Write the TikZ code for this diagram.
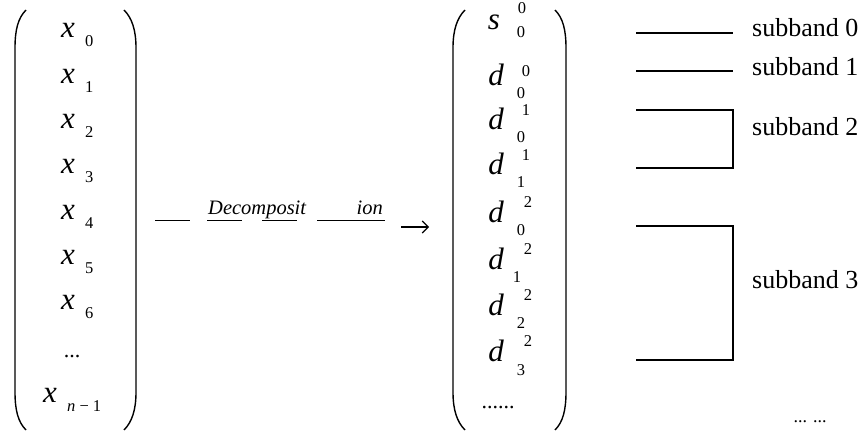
\documentclass[tikz,border=0pt]{standalone}
\usepackage{fontspec}
\usetikzlibrary{arrows.meta}
\setmainfont{Liberation Serif}
\begin{document}
\begin{tikzpicture}[x=1pt,y=-1pt,
  var/.style={font=\fontsize{31}{31}\selectfont\itshape, inner sep=0pt, anchor=base},
  idx/.style={font=\fontsize{16.5}{16.5}\selectfont, inner sep=0pt, anchor=base},
  band/.style={font=\fontsize{26}{26}\selectfont, anchor=base west, inner sep=0pt},
  lab/.style={font=\fontsize{20.5}{20.5}\selectfont\itshape, inner sep=0pt},
  dots/.style={font=\fontsize{22}{22}\selectfont, inner sep=0pt, anchor=base},
  paren/.style={line width=1.4pt},
  rule/.style={line width=1pt},
  bar/.style={line width=1.3pt}]
\useasboundingbox (0,0) rectangle (867,435);

% input vector x_0 ... x_{n-1}
\foreach \i in {0,...,6} {
  \pgfmathsetmacro{\yb}{38+45.3*\i}
  \node[var] (x\i) at (68,\yb) {x};
  \node[idx, anchor=base west] (xs\i) at (85,\yb+9) {\i};
}
\node[dots] (xdots) at (72,358) {...};
\node[var] (xn) at (50,402) {x};
\node[idx, anchor=base west] (xsn) at (67,411) {\textit{n} − 1};
\draw[paren] (26,10) .. controls (18,18) and (15,30) .. (15,48) -- (15,392)
             .. controls (15,410) and (18,422) .. (26,430);
\draw[paren] (124,10) .. controls (132,18) and (136,30) .. (136,48) -- (136,392)
             .. controls (136,410) and (132,422) .. (124,430);

% decomposition arrow
\node[lab, anchor=base west] (dec) at (208,215) {Decomposit};
\node[lab, anchor=base east] (ion) at (383,215) {ion};
\coordinate (a0) at (155,221);  \coordinate (a1) at (190,221);
\coordinate (u0) at (207,221);  \coordinate (u1) at (242,221);
\coordinate (u2) at (262,221);  \coordinate (u3) at (297,221);
\coordinate (u4) at (317,221);  \coordinate (u5) at (385,221);
\coordinate (p0) at (401,227);  \coordinate (p1) at (429,227);
\draw[rule] (a0) -- (a1);
\draw[rule] (u0) -- (u1);
\draw[rule] (u2) -- (u3);
\draw[rule] (u4) -- (u5);
\draw[line width=1.1pt, -{Straight Barb[length=6pt,width=12pt]}] (p0) -- (p1);

% transformed vector
\node[var] (s00) at (494,30) {s};
\node[idx] (s00u) at (522,14) {0};
\node[idx] (s00l) at (521,38) {0};
\foreach \n/\yb/\u/\l/\ux/\lx/\uo in {a/86/0/0/526/521/9, b/130/1/0/526/521/14, c/175/1/1/526/521/14,
    d/223/2/0/528/521/15, e/270/2/1/528/517/15, f/316/2/2/528/521/15, g/362/2/3/528/521/15} {
  \node[var] (d\n) at (496,\yb) {d};
  \node[idx] (d\n u) at (\ux,\yb-\uo) {\u};
  \node[idx] (d\n l) at (\lx,\yb+13) {\l};
}
\node[dots] (ddots) at (498,408) {......};
\draw[paren] (465,10) .. controls (457,18) and (453,30) .. (453,48) -- (453,392)
             .. controls (453,410) and (457,422) .. (465,430);
\draw[paren] (555,10) .. controls (563,18) and (566,30) .. (566,48) -- (566,392)
             .. controls (566,410) and (563,422) .. (555,430);

% subband grouping
\node[band] (b0) at (752,37) {subband 0};
\node[band] (b1) at (752,76) {subband 1};
\node[band] (b2) at (752,136) {subband 2};
\node[band] (b3) at (752,289) {subband 3};
\node[font=\fontsize{18}{18}\selectfont, inner sep=0pt, anchor=base] (bmore) at (810,422) {... ...};
\coordinate (l0a) at (636,33);  \coordinate (l0b) at (733,33);
\coordinate (l1a) at (636,71);  \coordinate (l1b) at (733,71);
\coordinate (g2a) at (636,110); \coordinate (g2b) at (733,110);
\coordinate (g2c) at (733,168); \coordinate (g2d) at (636,168);
\coordinate (g3a) at (636,226); \coordinate (g3b) at (733,226);
\coordinate (g3c) at (733,360); \coordinate (g3d) at (636,360);
\draw[bar] (l0a) -- (l0b);
\draw[bar] (l1a) -- (l1b);
\draw[bar] (g2a) -- (g2b) -- (g2c) -- (g2d);
\draw[bar] (g3a) -- (g3b) -- (g3c) -- (g3d);
\end{tikzpicture}
\end{document}
